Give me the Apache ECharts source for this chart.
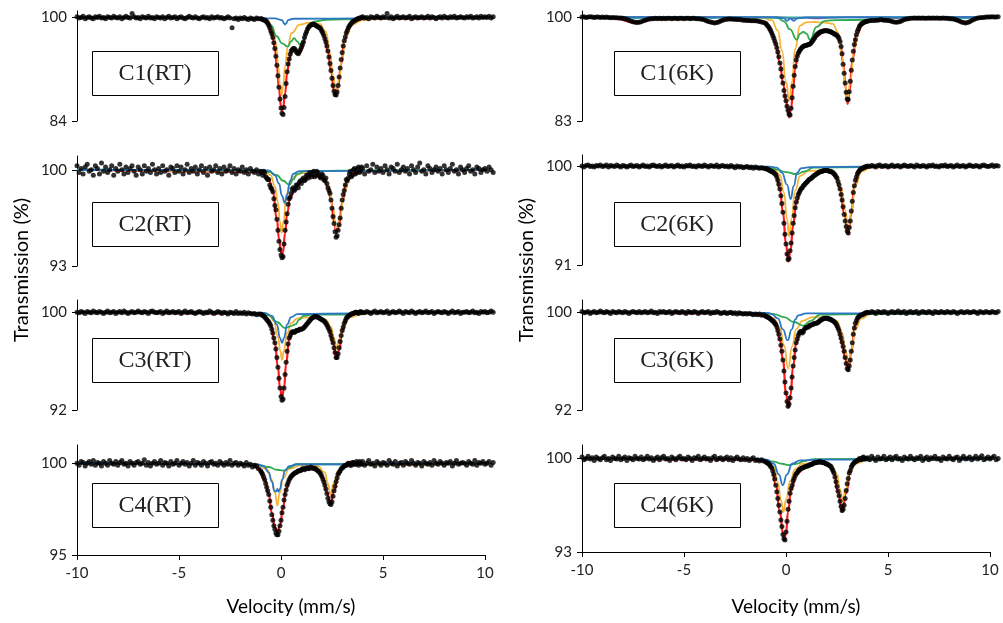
<!DOCTYPE html>
<html>
<head>
<meta charset="utf-8">
<title>Mössbauer spectra C1-C4</title>
<script src="https://cdn.jsdelivr.net/npm/echarts@6.0.0/dist/echarts.min.js"></script>
<style>
html, body { margin: 0; padding: 0; background: #fff; }
#chart { width: 1003px; height: 623px; }
</style>
</head>
<body>
<div id="chart"></div>
<script>
// channel grid: main channels every 0.1 mm/s from -10, extra channels in the dip region from -0.95
const VEL_START = -10, VEL_STEP = 0.1, MID_START = -0.95;

// ---------- C1 (RT) ----------
const c1rtData = [
  100.1,99.9,100.0,100.2,99.8,100.0,100.1,99.9,99.8,100.1,
  100.0,100.2,99.9,100.0,99.8,100.1,100.0,99.9,100.2,100.0,
  99.9,100.1,99.8,100.0,100.2,100.0,99.9,100.6,100.1,99.9,
  100.0,99.8,100.1,100.0,99.9,100.2,99.9,100.0,99.8,100.1,
  100.0,99.9,100.1,99.8,100.0,100.2,99.9,100.0,100.1,99.8,
  100.0,100.1,99.9,99.8,100.0,100.2,100.0,99.9,100.1,99.9,
  99.8,100.0,100.1,99.9,100.0,99.8,100.1,99.9,100.0,100.1,
  99.9,100.0,99.8,99.9,100.1,99.9,98.4,99.8,99.9,99.7,
  99.9,99.8,100.0,99.8,99.7,99.9,99.8,99.7,99.9,99.8,
  99.8,99.7,99.6,99.3,98.8,97.9,96.9,95.2,92.6,89.2,
  86.0,85.0,87.8,91.6,93.6,94.8,95.2,95.0,94.5,94.7,
  95.4,96.2,97.4,98.2,98.7,98.9,98.9,98.8,98.6,98.4,
  97.9,97.2,96.2,94.8,92.9,90.6,88.6,88.0,89.5,92.2,
  94.6,96.4,97.6,98.4,98.9,99.3,99.5,99.7,99.8,99.9,
  100.1,99.9,100.0,99.8,100.1,100.0,99.9,100.2,100.0,99.9,
  100.1,100.0,100.6,99.9,100.1,99.8,100.0,100.2,99.9,100.0,
  100.1,99.9,100.0,100.2,99.8,100.0,100.1,99.9,100.0,100.1,
  99.9,100.0,100.2,99.9,100.1,100.0,99.8,100.0,100.1,99.9,
  100.2,100.0,99.9,100.1,100.0,100.2,99.9,100.0,100.1,100.0,
  99.9,100.1,100.0,100.2,99.9,100.0,100.1,99.9,100.2,100.0,
  100.1,100.0,100.2,99.9,100.1
];
const c1rtMid = [
  99.8,99.6,99.5,99.1,98.4,97.5,96.1,94.0,91.0,87.4,
  85.2,86.1,89.8,92.8,94.3,95.0,95.2,94.7,94.4,95.0,
  95.8,96.9,97.8,98.5,98.8,99.0,98.9,98.7,98.5,98.2,
  97.6,96.7,95.6,93.9,91.8,89.5,88.1,88.5,90.8,93.5,
  95.6,97.0,98.0,98.7,99.1,99.4,99.6,99.8,99.9,100.0
];
const c1rtFit = [[-10,100],[-1.5,99.9],[-1,99.75],[-0.7,99.3],[-0.5,97.9],[-0.4,96.8],[-0.3,95.1],[-0.2,92.5],[-0.1,89.0],[0,86.2],[0.05,85.6],[0.1,86.0],[0.2,88.2],[0.3,91.4],[0.4,93.5],[0.5,94.5],[0.6,94.9],[0.7,94.9],[0.8,94.6],[0.9,94.5],[1.0,95.0],[1.1,96.1],[1.2,97.3],[1.3,98.1],[1.5,98.8],[1.7,98.8],[1.9,98.4],[2.1,97.2],[2.3,94.8],[2.45,91.8],[2.6,88.6],[2.7,88.0],[2.8,89.4],[2.95,92.8],[3.1,96.3],[3.3,98.4],[3.6,99.5],[4,99.85],[10.4,100]];
const c1rtOrange = [[-10,100],[-1,99.9],[-0.7,99.7],[-0.4,98.5],[-0.25,96.0],[-0.13,92.4],[-0.05,89.5],[0.03,88.0],[0.1,89.3],[0.2,92.4],[0.33,95.5],[0.52,97.6],[0.92,98.9],[1.4,99.2],[1.9,99.0],[2.2,97.8],[2.4,94.5],[2.55,91.0],[2.7,88.4],[2.85,90.5],[3.0,94.0],[3.2,97.2],[3.5,98.9],[4,99.6],[5,99.9],[10.4,100]];
const c1rtGreen = [[-10,100],[-1.2,99.95],[-0.78,99.7],[-0.5,98.8],[-0.21,97.1],[0.05,96.0],[0.33,95.5],[0.5,96.3],[0.64,96.8],[0.8,96.3],[0.92,95.8],[1.05,96.3],[1.26,97.6],[1.41,98.9],[1.66,99.4],[2.2,99.65],[3.75,99.75],[4.2,99.95],[10.4,100]];
const c1rtBlue = [[-10,100],[-1.5,99.9],[-0.3,99.85],[0.05,99.6],[0.15,99.1],[0.2,98.9],[0.25,99.1],[0.35,99.6],[0.6,99.8],[4.2,99.85],[5,100],[10.4,100]];

// ---------- C2 (RT) ----------
const c2rtData = [
  100.3,99.8,100.1,99.7,100.2,100.4,99.9,100.0,99.6,100.3,
  100.1,99.7,100.5,99.9,100.2,99.8,100.0,100.3,99.6,100.1,
  99.9,100.4,100.0,99.7,100.2,99.8,100.1,100.3,99.9,99.6,
  100.2,100.0,99.7,100.3,99.9,100.1,99.8,100.4,100.0,99.7,
  100.1,99.8,100.3,99.9,100.0,99.6,100.2,100.1,99.8,100.3,
  99.9,100.2,99.7,100.0,100.4,99.8,100.1,99.9,100.2,99.7,
  100.0,100.3,99.8,100.1,99.6,100.2,99.9,100.0,100.3,99.8,
  100.1,99.7,100.2,99.9,100.0,100.3,99.8,100.1,99.7,100.0,
  99.9,100.2,99.8,100.0,99.7,100.1,99.9,99.8,100.0,99.7,
  99.9,99.6,99.8,99.4,99.3,98.7,98.4,97.4,96.4,94.8,
  93.8,93.7,95.6,96.8,97.9,98.3,98.7,98.6,98.9,99.1,
  99.0,99.4,99.3,99.6,99.8,99.5,99.9,99.6,99.8,99.5,
  99.7,99.3,99.4,98.7,98.3,97.2,96.1,95.1,95.6,96.5,
  97.8,98.5,99.3,99.4,99.9,99.6,100.1,99.8,100.2,99.9,
  100.1,99.7,100.3,99.9,100.0,100.4,99.8,100.2,99.9,100.1,
  99.8,100.3,100.0,99.7,100.2,100.1,99.9,100.4,99.8,100.0,
  100.2,99.9,100.1,99.7,100.3,100.0,99.8,100.2,100.5,99.9,
  100.0,99.7,100.3,100.1,99.8,100.0,100.2,99.9,100.1,99.7,
  100.3,100.0,99.8,100.1,100.4,99.9,100.0,99.7,100.2,100.0,
  99.8,100.1,100.3,99.9,100.0,99.7,100.2,100.1,99.8,100.0,
  100.1,99.9,100.2,100.0,99.8
];
const c2rtMid = [
  99.8,99.9,99.5,99.3,98.9,98.6,97.9,97.1,95.6,94.2,
  93.6,94.6,96.2,97.5,98.0,98.6,98.5,98.9,98.7,99.2,
  99.3,99.2,99.6,99.4,99.7,99.8,99.5,99.9,99.6,99.4,
  99.6,99.2,99.0,98.5,97.8,96.6,95.5,95.2,96.0,97.2,
  98.2,98.9,99.2,99.7,99.5,100.0,99.7,100.1,99.8,100.2
];
const c2rtFit = [[-10,100],[-1,99.85],[-0.6,99.3],[-0.4,98.4],[-0.2,96.4],[-0.1,95.0],[0,94.0],[0.05,93.8],[0.1,94.0],[0.2,95.4],[0.3,96.8],[0.45,98.0],[0.7,98.7],[1.0,99.15],[1.5,99.55],[1.8,99.6],[2.1,99.35],[2.3,98.8],[2.45,97.8],[2.6,96.2],[2.72,95.4],[2.85,96.0],[3.0,97.6],[3.2,99.1],[3.5,99.75],[4,99.9],[10.4,100]];
const c2rtOrange = [[-10,100],[-0.8,99.9],[-0.5,99.6],[-0.3,98.8],[-0.15,97.6],[-0.05,96.2],[0.03,95.4],[0.12,96.2],[0.25,97.8],[0.4,98.9],[0.6,99.5],[1.0,99.75],[1.6,99.75],[2.1,99.5],[2.35,98.8],[2.55,97.2],[2.72,95.6],[2.9,96.6],[3.1,98.4],[3.4,99.5],[4,99.9],[10.4,100]];
const c2rtGreen = [[-10,100],[-1.0,99.95],[-0.6,99.85],[-0.2,99.6],[0.1,99.2],[0.41,98.9],[0.6,99.3],[0.8,99.7],[1.2,99.9],[3.5,99.95],[10.4,100]];
const c2rtBlue = [[-10,100],[-0.6,99.95],[-0.3,99.6],[-0.1,99.0],[0.05,98.1],[0.18,97.6],[0.3,98.2],[0.45,99.2],[0.6,99.7],[0.9,99.9],[10.4,100]];

// ---------- C3 (RT) ----------
const c3rtData = [
  100.0,99.95,100.05,100.0,99.9,100.05,100.0,99.95,100.1,100.0,
  99.95,100.05,100.0,99.9,100.0,100.1,99.95,100.0,100.05,99.9,
  100.0,100.05,99.95,100.1,100.0,99.9,100.0,100.05,99.95,100.0,
  100.1,100.0,99.95,100.05,100.0,99.9,100.05,100.1,100.0,99.95,
  100.0,100.05,99.9,100.0,100.1,99.95,100.0,100.05,99.95,100.0,
  100.05,99.9,100.0,100.1,99.95,100.0,100.05,99.95,99.9,100.0,
  100.05,100.0,99.9,100.0,99.95,100.1,100.0,99.9,99.95,100.05,
  100.0,99.9,100.0,99.95,99.85,100.0,99.95,99.9,100.05,99.9,
  99.95,99.9,100.0,99.85,99.95,99.9,99.85,99.9,99.8,99.85,
  99.85,99.75,99.6,99.4,99.2,98.9,98.3,97.5,96.3,94.6,
  93.1,92.9,94.9,96.8,97.9,98.3,98.4,98.4,98.5,98.6,
  98.6,98.7,98.9,99.1,99.3,99.5,99.6,99.65,99.6,99.5,
  99.4,99.3,99.1,98.8,98.4,97.8,97.1,96.3,96.6,97.6,
  98.5,99.1,99.5,99.7,99.8,99.9,99.95,100.0,99.9,100.05,
  100.0,99.95,100.05,100.0,99.9,100.0,100.1,99.95,100.0,100.05,
  99.95,100.0,100.1,99.9,100.0,100.05,99.95,100.0,100.1,100.0,
  99.9,100.05,100.0,99.95,100.1,100.0,99.9,100.0,100.05,99.95,
  100.0,100.1,99.95,100.0,100.05,99.9,100.0,100.05,100.0,99.95,
  100.05,100.0,99.9,100.0,100.1,99.95,100.0,100.05,99.9,100.0,
  100.0,100.05,99.95,100.0,100.1,99.95,100.0,99.9,100.05,100.0,
  100.05,99.95,100.0,100.1,100.0
];
const c3rtMid = [
  99.8,99.7,99.5,99.3,99.05,98.6,97.9,97.0,95.5,93.8,
  92.8,93.8,95.9,97.4,98.1,98.4,98.35,98.5,98.5,98.6,
  98.65,98.8,99.0,99.2,99.4,99.55,99.65,99.6,99.55,99.45,
  99.35,99.2,98.95,98.6,98.1,97.5,96.7,96.3,97.1,98.1,
  98.8,99.3,99.6,99.75,99.85,99.9,100.0,99.95,100.0,99.95
];
const c3rtFit = [[-10,100],[-1.2,99.9],[-0.8,99.6],[-0.5,98.9],[-0.3,97.5],[-0.15,95.5],[-0.05,93.8],[0.05,93.0],[0.15,93.8],[0.25,95.8],[0.4,97.8],[0.6,98.4],[0.9,98.55],[1.2,98.9],[1.5,99.45],[1.75,99.6],[2.1,99.3],[2.35,98.6],[2.55,97.5],[2.72,96.2],[2.85,96.9],[3.0,98.4],[3.2,99.4],[3.5,99.8],[4,99.95],[10.4,100]];
const c3rtOrange = [[-10,100],[-1,99.95],[-0.6,99.8],[-0.35,99.3],[-0.15,98.0],[-0.03,96.8],[0.05,96.1],[0.13,96.8],[0.3,98.3],[0.5,99.1],[0.8,99.5],[1.5,99.6],[2.2,99.4],[2.45,98.8],[2.6,97.9],[2.72,97.0],[2.85,97.8],[3.05,98.9],[3.4,99.6],[4,99.9],[10.4,100]];
const c3rtGreen = [[-10,100],[-1,99.95],[-0.6,99.75],[-0.2,99.2],[0.2,98.7],[0.45,98.85],[0.7,99.0],[0.9,99.4],[1.1,99.7],[1.5,99.8],[3.4,99.8],[3.8,99.95],[10.4,100]];
const c3rtBlue = [[-10,100],[-0.8,99.95],[-0.45,99.7],[-0.2,99.0],[-0.05,97.9],[0.05,97.5],[0.15,97.9],[0.3,99.0],[0.5,99.6],[0.8,99.85],[3.5,99.9],[4,100],[10.4,100]];

// ---------- C4 (RT) ----------
const c4rtData = [
  100.0,99.9,100.1,100.05,99.85,100.0,100.1,99.95,100.15,99.9,
  100.05,100.0,99.85,100.1,100.0,99.9,100.15,100.0,99.95,100.1,
  99.9,100.05,100.15,99.95,100.0,99.85,100.1,100.0,99.9,100.05,
  100.1,99.95,100.0,100.2,99.9,100.05,99.85,100.0,100.1,99.95,
  100.0,100.15,99.9,100.05,100.0,99.85,100.1,99.95,100.0,100.15,
  99.9,100.0,100.1,99.95,100.05,99.85,100.0,100.15,99.9,100.05,
  100.0,99.9,100.1,100.0,99.85,100.05,100.1,99.95,100.0,99.9,
  100.1,100.0,99.9,100.05,99.95,100.15,99.9,100.0,100.05,99.9,
  100.0,99.95,99.85,100.05,99.9,99.95,99.8,99.9,99.85,99.7,
  99.6,99.4,99.1,98.7,98.3,97.6,96.9,96.4,96.1,96.3,
  96.9,97.6,98.3,98.8,99.1,99.3,99.4,99.5,99.55,99.6,
  99.65,99.7,99.7,99.75,99.75,99.75,99.75,99.7,99.6,99.5,
  99.3,99.0,98.6,98.1,97.8,97.9,98.5,99.0,99.4,99.6,
  99.75,99.85,99.9,100.0,99.9,100.05,99.95,100.1,99.9,100.0,
  100.1,99.9,100.0,100.15,99.95,100.0,99.85,100.1,100.0,99.9,
  100.05,100.0,99.9,100.15,100.0,99.95,100.1,99.85,100.0,100.05,
  99.9,100.1,100.0,99.95,100.15,100.0,99.9,100.05,100.0,99.85,
  100.1,100.0,99.95,100.05,99.9,100.15,100.0,99.95,100.1,100.0,
  99.9,100.05,100.0,100.1,99.85,100.0,100.15,99.95,100.0,100.05,
  100.0,99.9,100.1,100.0,99.95,100.15,99.9,100.05,100.0,100.1,
  99.95,100.0,100.1,99.9,100.05
];
const c4rtMid = [
  99.5,99.25,98.9,98.5,97.95,97.2,96.6,96.2,96.1,96.6,
  97.3,98.0,98.55,98.95,99.2,99.35,99.45,99.5,99.6,99.6,
  99.7,99.65,99.75,99.7,99.8,99.75,99.7,99.65,99.55,99.4,
  99.15,98.8,98.35,97.9,97.75,98.2,98.75,99.2,99.5,99.7,
  99.8,99.9,99.95,100.0,99.9,100.05,99.95,100.0,100.1,99.95
];
const c4rtFit = [[-10,100],[-1.5,99.95],[-1.1,99.7],[-0.8,99.1],[-0.6,98.3],[-0.45,97.3],[-0.3,96.5],[-0.18,96.2],[-0.05,96.6],[0.1,97.6],[0.25,98.6],[0.45,99.2],[0.8,99.55],[1.4,99.75],[1.8,99.6],[2.05,99.2],[2.25,98.4],[2.43,97.8],[2.6,98.5],[2.8,99.4],[3.1,99.85],[3.5,99.95],[10.4,100]];
const c4rtOrange = [[-10,100],[-1.2,99.95],[-0.7,99.7],[-0.45,99.1],[-0.3,98.4],[-0.18,97.7],[-0.06,98.4],[0.1,99.2],[0.4,99.7],[1.0,99.9],[1.8,99.85],[2.15,99.5],[2.3,98.9],[2.43,98.3],[2.58,98.9],[2.8,99.6],[3.2,99.9],[10.4,100]];
const c4rtGreen = [[-10,100],[-1.5,99.95],[-1.1,99.9],[-0.6,99.8],[-0.2,99.65],[0.11,99.6],[0.4,99.75],[0.75,99.95],[3.2,99.95],[10.4,100]];
const c4rtBlue = [[-10,100],[-1.2,99.95],[-0.85,99.85],[-0.6,99.5],[-0.45,99.0],[-0.32,98.5],[-0.25,98.45],[-0.18,98.6],[-0.12,98.45],[-0.05,98.6],[0.05,99.1],[0.2,99.6],[0.4,99.85],[0.8,99.95],[3.2,99.95],[10.4,100]];

// ---------- C1 (6K) ----------
const c16kData = [
  100.0,100.05,99.95,100.0,100.05,100.0,99.95,100.0,100.0,99.95,
  100.0,99.95,100.0,99.95,99.9,99.95,99.9,99.9,99.85,99.85,
  99.8,99.75,99.65,99.5,99.35,99.25,99.15,99.1,99.15,99.25,
  99.4,99.5,99.6,99.7,99.75,99.75,99.8,99.75,99.8,99.75,
  99.8,99.75,99.8,99.8,99.75,99.8,99.8,99.75,99.8,99.8,
  99.75,99.8,99.8,99.75,99.8,99.8,99.75,99.75,99.7,99.65,
  99.55,99.4,99.3,99.2,99.1,99.05,99.1,99.2,99.35,99.5,
  99.6,99.65,99.7,99.7,99.65,99.65,99.6,99.6,99.55,99.5,
  99.5,99.45,99.45,99.4,99.4,99.4,99.35,99.3,99.2,99.1,
  99.0,98.6,98.1,97.4,96.6,95.6,94.3,92.5,90.3,88.0,
  86.3,84.7,84.0,86.8,90.5,93.0,94.1,94.7,95.1,95.3,
  95.4,95.5,95.7,96.1,96.6,97.1,97.4,97.6,97.7,97.75,
  97.75,97.7,97.6,97.4,97.2,97.0,96.5,95.2,92.3,89.2,
  86.6,87.8,91.3,94.4,96.3,97.7,98.5,98.9,99.1,99.25,
  99.35,99.4,99.45,99.45,99.5,99.5,99.55,99.55,99.5,99.5,
  99.45,99.4,99.3,99.2,99.15,99.2,99.3,99.45,99.6,99.7,
  99.75,99.8,99.8,99.85,99.8,99.85,99.8,99.85,99.8,99.8,
  99.85,99.8,99.85,99.8,99.85,99.8,99.8,99.85,99.8,99.8,
  99.75,99.75,99.7,99.6,99.5,99.35,99.2,99.1,99.05,99.1,
  99.25,99.45,99.6,99.75,99.85,99.9,99.95,99.95,100.0,100.0,
  100.0,100.05,100.0,100.0,100.05
];
const c16kMid = [
  98.8,98.4,97.8,97.0,96.1,95.0,93.5,91.5,89.2,87.1,
  85.4,84.1,85.1,88.7,91.9,93.6,94.4,94.9,95.2,95.35,
  95.45,95.55,95.9,96.35,96.85,97.25,97.5,97.65,97.75,97.75,
  97.75,97.65,97.5,97.3,97.1,96.8,96.0,94.0,90.8,87.7,
  86.5,89.5,93.0,95.5,97.1,98.1,98.7,99.0,99.2,99.3
];
const c16kFit = [[-10,100],[-8.6,99.9],[-7.3,99.1],[-6.4,99.8],[-4.3,99.75],[-3.6,99.05],[-3.0,99.6],[-2.0,99.5],[-1.4,99.4],[-1,99.0],[-0.7,97.4],[-0.5,95.6],[-0.3,92.5],[-0.15,89.3],[0,86.3],[0.1,84.6],[0.16,83.6],[0.25,85.0],[0.35,88.5],[0.45,91.8],[0.6,94.0],[0.8,95.0],[1.0,95.35],[1.2,95.7],[1.5,96.9],[1.9,97.75],[2.2,97.6],[2.45,97.1],[2.65,96.0],[2.8,92.5],[2.92,88.5],[3.02,85.8],[3.12,88.0],[3.25,92.8],[3.45,97.1],[3.8,99.1],[4.3,99.45],[4.9,99.5],[5.4,99.15],[6.0,99.75],[8.0,99.75],[8.8,99.05],[9.5,99.9],[10.4,100]];
const c16kOrange = [[-10,100],[-1.2,99.9],[-0.7,99.5],[-0.4,97.8],[-0.2,94.5],[0,89.5],[0.16,86.3],[0.3,89.5],[0.44,94.7],[0.69,98.6],[1.0,99.15],[1.4,99.2],[1.9,99.1],[2.3,98.9],[2.55,97.5],[2.75,93.5],[2.9,89.0],[3.02,86.5],[3.15,89.5],[3.35,95.0],[3.6,98.3],[4.0,99.5],[5,99.9],[10.4,100]];
const c16kGreen = [[-10,100],[-1,99.95],[-0.4,99.85],[-0.1,99.3],[0.2,98.0],[0.52,96.3],[0.7,97.3],[0.85,97.6],[1.0,97.3],[1.18,96.3],[1.5,98.4],[1.91,99.4],[2.5,99.5],[4,99.55],[4.4,99.9],[10.4,100]];
const c16kBlue = [[-10,100],[-0.5,99.95],[-0.1,99.8],[0.05,99.4],[0.2,99.75],[0.38,99.4],[0.55,99.8],[1,99.95],[10.4,100]];
const c16kPurple = [[-10,100],[-0.5,100],[0.0,99.9],[0.4,99.8],[0.9,99.9],[1.5,99.8],[2.2,99.9],[3,100],[5.0,99.95],[5.4,99.85],[5.8,99.95],[10.4,100]];
const c16kTeal = [[-10,100],[-7.8,99.95],[-7.3,99.8],[-6.8,99.95],[-4.1,99.95],[-3.6,99.85],[-3.1,99.95],[8.3,99.95],[8.8,99.8],[9.3,99.95],[10.4,100]];

// ---------- C2 (6K) ----------
const c26kData = [
  100.0,99.9,100.05,100.1,99.95,100.0,99.9,100.05,100.0,100.1,
  99.95,100.0,100.1,99.9,100.05,100.0,99.95,100.1,100.0,99.9,
  100.05,100.0,99.9,100.0,100.1,99.95,100.0,100.05,99.9,100.0,
  100.1,99.95,100.0,99.9,100.05,100.1,100.0,99.95,100.05,99.9,
  100.0,100.1,99.95,100.0,100.05,99.9,100.0,100.1,99.95,100.0,
  99.9,100.05,100.0,100.1,99.95,100.0,99.9,100.05,100.0,99.95,
  100.1,100.0,99.9,100.05,100.0,99.95,100.1,99.9,100.0,100.05,
  99.95,100.0,99.9,100.05,99.95,99.85,100.0,99.9,99.95,99.85,
  99.9,99.95,99.85,99.9,99.8,99.9,99.85,99.8,99.85,99.8,
  99.75,99.7,99.6,99.5,99.4,99.2,98.7,97.9,96.6,94.8,
  92.9,91.5,92.3,93.9,95.5,96.7,97.4,97.8,98.05,98.3,
  98.5,98.7,98.85,99.0,99.15,99.3,99.4,99.5,99.55,99.6,
  99.6,99.55,99.5,99.4,99.2,98.9,98.3,97.4,96.3,95.0,
  94.1,94.4,95.9,97.6,98.7,99.3,99.6,99.75,99.85,99.9,
  100.0,99.95,100.05,100.0,99.9,100.05,100.1,99.95,100.0,100.05,
  99.9,100.0,100.1,99.95,100.0,100.05,99.9,100.0,100.1,100.0,
  99.95,100.05,100.0,99.9,100.1,100.0,99.95,100.05,100.0,99.9,
  100.05,100.0,100.1,99.95,100.0,99.9,100.05,100.0,100.1,99.95,
  100.0,100.05,99.9,100.0,100.1,99.95,100.0,100.05,99.9,100.0,
  100.1,100.0,99.95,100.05,100.0,99.9,100.05,100.1,100.0,99.95,
  100.0,100.1,99.95,100.05,100.0
];
const c26kMid = [
  99.75,99.65,99.55,99.45,99.3,99.0,98.35,97.3,95.8,93.8,
  92.0,91.6,93.0,94.8,96.2,97.1,97.6,97.95,98.2,98.4,
  98.6,98.8,98.9,99.1,99.2,99.35,99.45,99.5,99.6,99.6,
  99.6,99.5,99.45,99.3,99.05,98.6,97.9,96.9,95.6,94.5,
  93.9,95.0,96.8,98.2,99.0,99.45,99.7,99.8,99.9,99.95
];
const c26kFit = [[-10,100],[-1.5,99.9],[-0.8,99.6],[-0.5,99.2],[-0.3,97.9],[-0.15,95.8],[0,92.9],[0.11,91.3],[0.22,92.3],[0.35,94.6],[0.5,96.7],[0.75,97.95],[1.0,98.5],[1.4,99.15],[1.9,99.6],[2.2,99.5],[2.45,99.05],[2.65,97.9],[2.85,95.7],[3.05,93.8],[3.2,95.6],[3.35,98.2],[3.6,99.6],[4,99.9],[10.4,100]];
const c26kOrange = [[-10,100],[-1.2,99.95],[-0.6,99.8],[-0.3,99.2],[-0.1,97.6],[0.05,95.2],[0.16,93.6],[0.27,95.2],[0.45,97.8],[0.7,99.1],[1.1,99.55],[1.8,99.6],[2.4,99.3],[2.7,98.0],[2.9,96.0],[3.05,94.1],[3.2,95.8],[3.4,98.2],[3.7,99.5],[4.2,99.9],[10.4,100]];
const c26kGreen = [[-10,100],[-1.6,99.95],[-1.1,99.85],[-0.5,99.7],[0,99.45],[0.52,99.25],[0.9,99.5],[1.34,99.85],[3.8,99.9],[10.4,100]];
const c26kBlue = [[-10,100],[-0.8,99.95],[-0.45,99.85],[-0.2,99.4],[0.05,98.3],[0.23,97.0],[0.38,98.2],[0.55,99.4],[0.75,99.8],[1.2,99.9],[3.8,99.95],[10.4,100]];

// ---------- C3 (6K) ----------
const c36kData = [
  100.05,99.95,100.0,100.05,99.9,100.0,100.05,99.95,100.0,100.1,
  100.0,99.95,100.05,100.0,99.9,100.05,100.0,99.95,100.05,100.0,
  99.95,100.05,100.0,99.9,100.0,100.05,100.0,99.95,100.05,99.95,
  100.0,100.05,99.95,100.0,100.1,99.95,100.0,99.9,100.05,100.0,
  100.05,99.95,100.0,100.05,99.9,100.0,100.05,100.0,99.95,100.05,
  100.0,99.9,100.05,100.0,99.95,100.05,100.0,99.9,100.0,100.05,
  99.95,100.0,100.05,99.9,100.0,99.95,100.05,100.0,99.9,99.95,
  100.0,99.9,99.95,100.0,99.9,99.95,99.85,99.95,99.9,99.85,
  99.9,99.85,99.9,99.85,99.8,99.85,99.8,99.85,99.75,99.8,
  99.7,99.6,99.5,99.35,99.2,99.0,98.5,97.8,96.8,95.2,
  93.4,92.3,93.0,94.7,96.3,97.5,98.1,98.4,98.3,98.6,
  98.75,98.8,98.95,99.0,99.05,99.1,99.2,99.35,99.45,99.5,
  99.5,99.45,99.4,99.3,99.15,98.9,98.5,97.9,97.2,96.3,
  95.4,95.6,96.8,98.2,99.1,99.5,99.7,99.8,99.85,99.95,
  100.0,99.95,100.05,100.0,99.9,100.05,100.0,99.95,100.05,100.0,
  99.9,100.0,100.05,99.95,100.0,100.1,99.95,100.0,100.05,99.9,
  100.0,100.05,99.95,100.0,100.05,99.9,100.0,100.05,100.0,99.95,
  100.05,100.0,99.9,100.05,100.0,99.95,100.05,100.0,99.95,100.05,
  100.0,99.95,100.05,100.0,99.9,100.0,100.05,99.95,100.0,100.05,
  99.95,100.0,100.05,100.0,99.9,100.05,100.0,99.95,100.05,100.0,
  99.95,100.05,100.0,99.95,100.05
];
const c36kMid = [
  99.65,99.55,99.45,99.3,99.1,98.8,98.2,97.3,96.1,94.3,
  92.7,92.5,93.8,95.6,96.9,97.8,98.3,98.45,98.4,98.7,
  98.8,98.9,98.95,99.05,99.1,99.15,99.3,99.4,99.5,99.5,
  99.5,99.45,99.35,99.25,99.05,98.7,98.2,97.55,96.8,95.8,
  95.3,96.1,97.5,98.7,99.3,99.6,99.75,99.8,99.9,99.95
];
const c36kFit = [[-10,100],[-1.5,99.9],[-0.8,99.5],[-0.5,99.0],[-0.3,97.8],[-0.15,96.1],[0,93.4],[0.11,92.2],[0.22,93.2],[0.35,95.6],[0.5,97.5],[0.7,98.35],[1.0,98.75],[1.5,99.1],[2.0,99.5],[2.3,99.3],[2.55,98.7],[2.75,97.5],[2.9,96.2],[3.05,95.2],[3.2,96.7],[3.38,98.9],[3.6,99.7],[4,99.9],[10.4,100]];
const c36kOrange = [[-10,100],[-1.5,99.95],[-1.0,99.8],[-0.6,99.5],[-0.3,98.7],[-0.1,97.3],[0.11,95.4],[0.3,97.2],[0.5,98.6],[0.8,99.3],[1.3,99.6],[2.0,99.6],[2.5,99.3],[2.75,98.3],[2.92,96.9],[3.05,95.8],[3.2,96.9],[3.4,98.6],[3.7,99.5],[4.2,99.9],[10.4,100]];
const c36kGreen = [[-10,100],[-1,99.95],[-0.6,99.85],[-0.1,99.6],[0.4,99.2],[0.85,98.9],[1.2,99.3],[1.67,99.8],[3.8,99.85],[10.4,100]];
const c36kBlue = [[-10,100],[-1,99.95],[-0.7,99.85],[-0.4,99.5],[-0.15,98.6],[0.08,97.7],[0.28,98.6],[0.45,99.4],[0.6,99.75],[1,99.9],[3.8,99.9],[10.4,100]];

// ---------- C4 (6K) ----------
const c46kData = [
  100.1,99.9,100.0,100.15,99.95,100.05,99.85,100.1,100.0,99.9,
  100.05,100.15,99.9,100.0,99.85,100.1,100.0,99.95,100.15,99.9,
  100.0,100.1,99.85,100.05,100.0,99.9,100.15,100.0,99.95,100.1,
  99.9,100.0,100.15,99.95,100.05,99.85,100.0,100.1,99.9,100.05,
  100.15,99.95,100.0,99.85,100.1,100.0,99.9,100.05,100.15,99.95,
  100.0,99.9,100.1,100.0,99.85,100.05,100.0,100.15,99.9,100.0,
  100.1,99.95,100.0,99.85,100.05,100.15,99.9,100.0,100.05,99.9,
  100.0,100.1,99.9,100.05,99.85,100.0,100.1,99.95,99.9,100.05,
  99.9,100.0,99.85,99.95,100.05,99.85,99.9,99.8,99.9,99.8,
  99.75,99.65,99.5,99.3,98.8,98.0,97.0,96.0,94.9,94.0,
  94.5,96.2,97.4,98.0,98.5,98.85,99.05,99.2,99.3,99.35,
  99.4,99.45,99.55,99.6,99.65,99.7,99.75,99.75,99.7,99.65,
  99.6,99.5,99.4,99.1,98.6,97.9,97.2,96.4,96.2,97.0,
  98.1,98.9,99.35,99.6,99.75,99.85,100.0,99.9,100.1,99.95,
  100.05,99.9,100.15,100.0,99.85,100.1,99.95,100.0,100.15,99.9,
  100.0,100.1,99.9,100.05,100.15,99.95,100.0,99.85,100.1,100.0,
  99.95,100.15,100.0,99.9,100.05,100.0,100.15,99.85,100.0,100.1,
  99.9,100.05,100.0,100.15,99.95,100.0,99.85,100.1,100.0,99.95,
  100.15,100.0,99.9,100.05,100.1,99.85,100.0,100.15,99.95,100.0,
  100.1,99.9,100.0,100.15,99.95,100.05,100.2,99.9,100.0,100.1,
  99.95,100.05,100.15,99.9,100.0
];
const c46kMid = [
  99.7,99.6,99.4,99.05,98.45,97.5,96.5,95.4,94.3,93.9,
  95.3,96.8,97.75,98.3,98.7,98.95,99.15,99.25,99.3,99.4,
  99.45,99.5,99.55,99.65,99.7,99.7,99.75,99.7,99.7,99.6,
  99.55,99.45,99.25,98.9,98.25,97.55,96.8,96.1,96.5,97.6,
  98.5,99.1,99.5,99.7,99.8,99.9,99.95,100.05,99.95,100.0
];
const c46kFit = [[-10,100],[-1.5,99.9],[-1,99.75],[-0.7,99.3],[-0.5,98.0],[-0.3,96.0],[-0.15,94.4],[-0.08,93.9],[0.0,94.4],[0.1,96.0],[0.25,97.7],[0.5,98.85],[1.0,99.4],[1.6,99.75],[2.1,99.5],[2.35,98.9],[2.55,97.5],[2.75,96.0],[2.95,97.4],[3.15,99.1],[3.4,99.75],[4,99.95],[10.4,100]];
const c46kOrange = [[-10,100],[-1.5,99.95],[-0.9,99.8],[-0.6,99.3],[-0.4,98.2],[-0.25,96.9],[-0.13,96.0],[0.0,96.9],[0.2,98.3],[0.45,99.2],[0.8,99.6],[1.5,99.7],[2.2,99.5],[2.5,98.8],[2.65,97.7],[2.78,96.8],[2.92,97.6],[3.1,98.9],[3.4,99.6],[4,99.9],[10.4,100]];
const c46kGreen = [[-10,100],[-1.6,99.95],[-1.2,99.9],[-0.6,99.75],[-0.2,99.6],[0.11,99.5],[0.5,99.6],[0.9,99.8],[1.35,99.95],[10.4,100]];
const c46kBlue = [[-10,100],[-1.2,99.95],[-0.95,99.9],[-0.6,99.6],[-0.35,98.8],[-0.16,98.0],[0.05,98.8],[0.3,99.6],[0.69,99.85],[1.5,99.9],[3.5,99.9],[10.4,100]];

const labels = ['C1(RT)','C2(RT)','C3(RT)','C4(RT)','C1(6K)','C2(6K)','C3(6K)','C4(6K)'];
const yMins = [84, 93, 92, 95, 83, 91, 92, 93];

const COL = { red: '#FF1A1A', orange: '#F7B538', green: '#2FA84F', blue: '#2B78C2', purple: '#7B52AB', teal: '#3AA6A6' };
const FONT = 'Lato, "Open Sans", sans-serif';

const panels = [
  { data: c1rtData, mid: c1rtMid, fit: c1rtFit, parts: [[c1rtOrange,'orange'],[c1rtGreen,'green'],[c1rtBlue,'blue']] },
  { data: c2rtData, mid: c2rtMid, fit: c2rtFit, parts: [[c2rtOrange,'orange'],[c2rtGreen,'green'],[c2rtBlue,'blue']] },
  { data: c3rtData, mid: c3rtMid, fit: c3rtFit, parts: [[c3rtOrange,'orange'],[c3rtGreen,'green'],[c3rtBlue,'blue']] },
  { data: c4rtData, mid: c4rtMid, fit: c4rtFit, parts: [[c4rtOrange,'orange'],[c4rtGreen,'green'],[c4rtBlue,'blue']] },
  { data: c16kData, mid: c16kMid, fit: c16kFit, parts: [[c16kOrange,'orange'],[c16kGreen,'green'],[c16kPurple,'purple'],[c16kTeal,'teal'],[c16kBlue,'blue']] },
  { data: c26kData, mid: c26kMid, fit: c26kFit, parts: [[c26kOrange,'orange'],[c26kGreen,'green'],[c26kBlue,'blue']] },
  { data: c36kData, mid: c36kMid, fit: c36kFit, parts: [[c36kOrange,'orange'],[c36kGreen,'green'],[c36kBlue,'blue']] },
  { data: c46kData, mid: c46kMid, fit: c46kFit, parts: [[c46kOrange,'orange'],[c46kGreen,'green'],[c46kBlue,'blue']] }
];

// pixel layout of the 8 plot areas (left column then right column)
const gridPos = [
  { left: 77, top: 11, height: 110 }, { left: 77, top: 156, height: 110 },
  { left: 77, top: 300, height: 110 }, { left: 77, top: 445, height: 110 },
  { left: 582, top: 11, height: 110 }, { left: 582, top: 155, height: 110 },
  { left: 582, top: 300, height: 110 }, { left: 582, top: 445, height: 107 }
];
const boxTops = [51, 202, 338, 483];

function channels(values, start) {
  return values.map((t, i) => [+(start + i * VEL_STEP).toFixed(2), t]);
}

const grids = [], xAxes = [], yAxes = [], series = [];
panels.forEach((p, i) => {
  const bottom = i === 3 || i === 7;
  grids.push({ left: gridPos[i].left, top: gridPos[i].top, width: 408, height: gridPos[i].height });
  xAxes.push({
    gridIndex: i, type: 'value', min: -10, max: 10, interval: 5, show: bottom,
    axisLine: { onZero: false, lineStyle: { color: '#000', width: 1 } },
    axisTick: { length: 5, lineStyle: { color: '#000' } },
    axisLabel: { fontSize: 15, color: '#222', margin: 11, fontFamily: FONT },
    splitLine: { show: false }
  });
  yAxes.push({
    gridIndex: i, type: 'value', min: yMins[i], max: 101,
    axisLine: { show: true, onZero: false, lineStyle: { color: '#000', width: 1 } },
    axisTick: { show: true, length: 5, customValues: [yMins[i], 100], lineStyle: { color: '#000' } },
    axisLabel: { customValues: [yMins[i], 100], fontSize: 15, color: '#222', margin: 10, fontFamily: FONT },
    splitLine: { show: false }
  });
  const line = (d, c, w) => ({
    type: 'line', xAxisIndex: i, yAxisIndex: i, data: d, smooth: 0.5, smoothMonotone: 'x',
    symbol: 'none', clip: false, silent: true, z: 2,
    lineStyle: { color: COL[c], width: w }
  });
  series.push(line(p.fit, 'red', 2.2));
  p.parts.forEach(([d, c]) => series.push(line(d, c, 1.8)));
  series.push({
    type: 'scatter', xAxisIndex: i, yAxisIndex: i, clip: false, silent: true, z: 3,
    data: channels(p.data, VEL_START).concat(channels(p.mid, MID_START)),
    symbolSize: 5, itemStyle: { color: '#000' }
  });
});

const graphic = [];
labels.forEach((txt, i) => {
  const x = i < 4 ? 92 : 614, y = boxTops[i % 4];
  graphic.push({
    type: 'rect', left: x, top: y, z: 10,
    shape: { width: 126, height: 44 },
    style: { fill: '#fff', stroke: '#000', lineWidth: 1 }
  });
  graphic.push({
    type: 'text', x: x + 63, y: y + 23, z: 11,
    style: { text: txt, font: '24px "Liberation Serif", "DejaVu Serif", serif', fill: '#222', textAlign: 'center', textVerticalAlign: 'middle' }
  });
});
[22, 527].forEach(x => graphic.push({
  type: 'text', x: x, y: 270, rotation: Math.PI / 2, z: 11,
  style: { text: 'Transmission (%)', font: '20px ' + FONT, fill: '#000', textAlign: 'center', textVerticalAlign: 'middle' }
}));
[291, 796].forEach(x => graphic.push({
  type: 'text', x: x, y: 607, z: 11,
  style: { text: 'Velocity (mm/s)', font: '19px ' + FONT, fill: '#000', textAlign: 'center', textVerticalAlign: 'middle' }
}));

const chart = echarts.init(document.getElementById('chart'));
chart.setOption({
  animation: false,
  backgroundColor: '#fff',
  grid: grids, xAxis: xAxes, yAxis: yAxes,
  series: series,
  graphic: graphic
});
</script>
</body>
</html>
